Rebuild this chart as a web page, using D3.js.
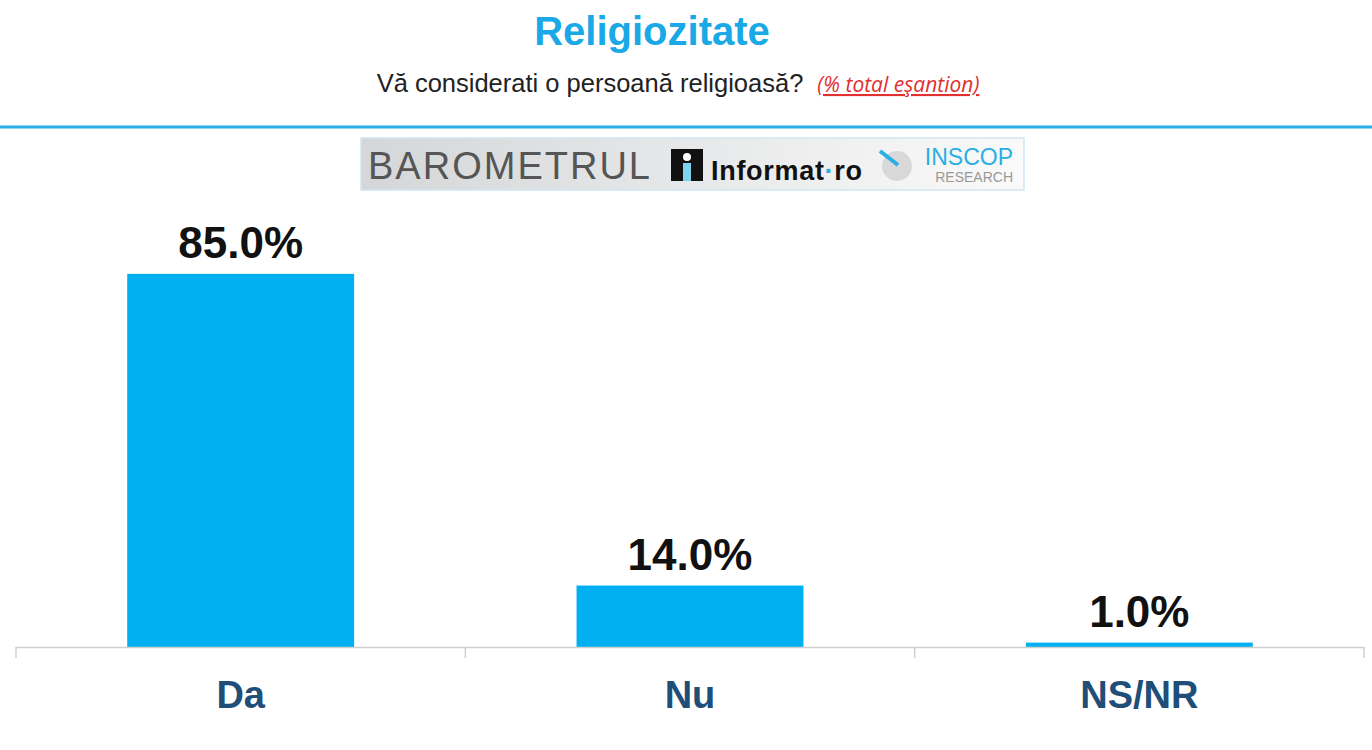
<!DOCTYPE html>
<html>
<head>
<meta charset="utf-8">
<script src="https://cdn.jsdelivr.net/npm/d3@7"></script>
<style>
body { margin: 0; background: #fff; }
</style>
</head>
<body>
<svg id="chart" width="1372" height="750"></svg>
<script>
// Date
const categories = ["Da", "Nu", "NS/NR"];
const values = [85.0, 14.0, 1.0];

const svg = d3.select("#chart");
const font = "Liberation Sans, Arial, sans-serif";

// Titlu
svg.append("text").attr("x", 652).attr("y", 45).attr("text-anchor", "middle")
    .attr("font-family", font).attr("font-weight", "bold").attr("font-size", 40)
    .attr("fill", "#1aa8e6").text("Religiozitate");

const sub = svg.append("text").attr("x", 678).attr("y", 92).attr("text-anchor", "middle")
    .attr("font-family", font).attr("font-size", 25.5).attr("fill", "#222");
sub.append("tspan").text("Vă considerati o persoană religioasă?");
sub.append("tspan").attr("dx", 14).attr("fill", "#e03030").attr("font-style", "italic")
    .attr("text-decoration", "underline").attr("font-family", "Open Sans, sans-serif")
    .attr("font-size", 21).text("(% total eşantion)");

svg.append("line").attr("x1", 0).attr("x2", 1372).attr("y1", 127).attr("y2", 127)
    .attr("stroke", "#29aee6").attr("stroke-width", 3);

// Banner
const grad = svg.append("defs").append("linearGradient").attr("id", "bg")
    .attr("x1", 0).attr("x2", 1).attr("y1", 0).attr("y2", 0);
grad.append("stop").attr("offset", "0%").attr("stop-color", "#d4d6d8");
grad.append("stop").attr("offset", "100%").attr("stop-color", "#fafafa");
svg.append("rect").attr("x", 361).attr("y", 138).attr("width", 663).attr("height", 52)
    .attr("fill", "url(#bg)").attr("stroke", "#cfe6f2").attr("stroke-width", 1.5);
svg.append("text").attr("x", 368).attr("y", 179).attr("font-family", font)
    .attr("font-size", 38).attr("fill", "#555").attr("textLength", 282).text("BAROMETRUL");
svg.append("rect").attr("x", 671).attr("y", 149).attr("width", 32).attr("height", 32).attr("fill", "#111");
svg.append("rect").attr("x", 683).attr("y", 163).attr("width", 8).attr("height", 18).attr("fill", "#7dd3f0");
svg.append("circle").attr("cx", 687).attr("cy", 157).attr("r", 4).attr("fill", "#fff");
const inf = svg.append("text").attr("x", 711).attr("y", 180).attr("font-family", font)
    .attr("font-weight", "bold").attr("font-size", 27).attr("fill", "#111")
    .attr("textLength", 151);
inf.append("tspan").text("Informat");
inf.append("tspan").attr("fill", "#29aee6").text("·");
inf.append("tspan").text("ro");
svg.append("circle").attr("cx", 897).attr("cy", 166).attr("r", 15).attr("fill", "#d8d8d8");
svg.append("line").attr("x1", 880).attr("y1", 151).attr("x2", 898).attr("y2", 165)
    .attr("stroke", "#29aee6").attr("stroke-width", 4);
svg.append("text").attr("x", 1013).attr("y", 165).attr("text-anchor", "end").attr("font-family", font)
    .attr("font-size", 23).attr("fill", "#29aee6").text("INSCOP");
svg.append("text").attr("x", 1013).attr("y", 182).attr("text-anchor", "end").attr("font-family", font)
    .attr("font-size", 14).attr("fill", "#999").text("RESEARCH");

// Scale
const x = d3.scaleBand().domain(categories).range([16, 1364]).padding(0);
const y = d3.scaleLinear().domain([0, 100]).range([647, 208]);
const barW = x.bandwidth() * 0.505;

svg.selectAll(".bar").data(categories).enter().append("rect")
    .attr("x", d => x(d) + (x.bandwidth() - barW) / 2)
    .attr("y", (d, i) => y(values[i]))
    .attr("width", barW)
    .attr("height", (d, i) => y(0) - y(values[i]))
    .attr("fill", "#00b0f0");

svg.selectAll(".val").data(categories).enter().append("text")
    .attr("x", d => x(d) + x.bandwidth() / 2)
    .attr("y", (d, i) => y(values[i]) - 16)
    .attr("text-anchor", "middle").attr("font-family", font).attr("font-weight", "bold")
    .attr("font-size", 44).attr("fill", "#111")
    .text((d, i) => values[i].toFixed(1) + "%");

// Axa
const axis = svg.append("g").attr("transform", "translate(0,647)")
    .call(d3.axisBottom(x).tickSize(0).tickFormat(""));
axis.select(".domain").attr("stroke", "#d0d0d0").attr("stroke-width", 1.5);
const edges = [16].concat(categories.map(c => x(c) + x.bandwidth()));
svg.selectAll(".tk").data(edges).enter().append("line")
    .attr("x1", d => d).attr("x2", d => d).attr("y1", 647).attr("y2", 658)
    .attr("stroke", "#d0d0d0").attr("stroke-width", 1.5);

svg.selectAll(".cat").data(categories).enter().append("text")
    .attr("x", d => x(d) + x.bandwidth() / 2).attr("y", 708)
    .attr("text-anchor", "middle").attr("font-family", font).attr("font-weight", "bold")
    .attr("font-size", 38).attr("fill", "#1f4e79").text(d => d);
</script>
</body>
</html>
